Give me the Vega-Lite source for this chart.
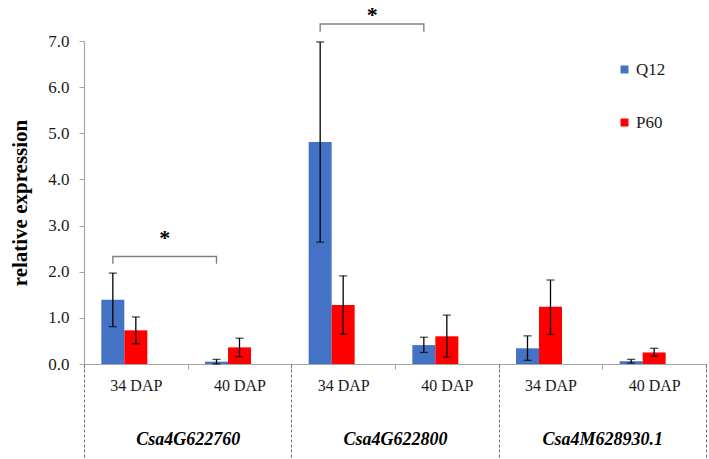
{
  "$schema": "https://vega.github.io/schema/vega-lite/v6.json",
  "width": 622,
  "height": 323,
  "autosize": {"type": "none"},
  "padding": {"left": 84, "top": 41, "right": 3, "bottom": 95},
  "background": "white",
  "config": {"view": {"stroke": null}, "font": "'Liberation Serif', 'Times New Roman', 'DejaVu Serif', serif"},
  "datasets": {
    "bars": [
      {"gene": "Csa4G622760", "cat": "Csa4G622760|34 DAP", "series": "Q12", "value": 1.39, "lo": 0.81, "hi": 1.97},
      {"gene": "Csa4G622760", "cat": "Csa4G622760|34 DAP", "series": "P60", "value": 0.73, "lo": 0.44, "hi": 1.02},
      {"gene": "Csa4G622760", "cat": "Csa4G622760|40 DAP", "series": "Q12", "value": 0.05, "lo": 0.0, "hi": 0.10},
      {"gene": "Csa4G622760", "cat": "Csa4G622760|40 DAP", "series": "P60", "value": 0.36, "lo": 0.16, "hi": 0.56},
      {"gene": "Csa4G622800", "cat": "Csa4G622800|34 DAP", "series": "Q12", "value": 4.81, "lo": 2.64, "hi": 6.98},
      {"gene": "Csa4G622800", "cat": "Csa4G622800|34 DAP", "series": "P60", "value": 1.28, "lo": 0.65, "hi": 1.91},
      {"gene": "Csa4G622800", "cat": "Csa4G622800|40 DAP", "series": "Q12", "value": 0.41, "lo": 0.25, "hi": 0.58},
      {"gene": "Csa4G622800", "cat": "Csa4G622800|40 DAP", "series": "P60", "value": 0.60, "lo": 0.15, "hi": 1.06},
      {"gene": "Csa4M628930.1", "cat": "Csa4M628930.1|34 DAP", "series": "Q12", "value": 0.34, "lo": 0.08, "hi": 0.61},
      {"gene": "Csa4M628930.1", "cat": "Csa4M628930.1|34 DAP", "series": "P60", "value": 1.24, "lo": 0.64, "hi": 1.82},
      {"gene": "Csa4M628930.1", "cat": "Csa4M628930.1|40 DAP", "series": "Q12", "value": 0.06, "lo": 0.02, "hi": 0.10},
      {"gene": "Csa4M628930.1", "cat": "Csa4M628930.1|40 DAP", "series": "P60", "value": 0.25, "lo": 0.17, "hi": 0.34}
    ],
    "brackets": [
      {"gene": "Csa4G622760", "cat": "Csa4G622760|34 DAP", "series": "Q12", "y": 2.17, "ord": 1},
      {"gene": "Csa4G622760", "cat": "Csa4G622760|34 DAP", "series": "Q12", "y": 2.33, "ord": 2},
      {"gene": "Csa4G622760", "cat": "Csa4G622760|40 DAP", "series": "Q12", "y": 2.33, "ord": 3},
      {"gene": "Csa4G622760", "cat": "Csa4G622760|40 DAP", "series": "Q12", "y": 2.17, "ord": 4},
      {"gene": "Csa4G622800", "cat": "Csa4G622800|34 DAP", "series": "Q12", "y": 7.20, "ord": 1},
      {"gene": "Csa4G622800", "cat": "Csa4G622800|34 DAP", "series": "Q12", "y": 7.37, "ord": 2},
      {"gene": "Csa4G622800", "cat": "Csa4G622800|40 DAP", "series": "Q12", "y": 7.37, "ord": 3},
      {"gene": "Csa4G622800", "cat": "Csa4G622800|40 DAP", "series": "Q12", "y": 7.20, "ord": 4}
    ],
    "stars": [
      {"cat": "Csa4G622760|34 DAP", "series": "_", "y": 2.72, "label": "*"},
      {"cat": "Csa4G622800|34 DAP", "series": "_", "y": 7.56, "label": "*"}
    ],
    "genes": [
      {"gene": "Csa4G622760"},
      {"gene": "Csa4G622800"},
      {"gene": "Csa4M628930.1"}
    ]
  },
  "resolve": {"scale": {"x": "independent"}, "axis": {"x": "independent"}},
  "layer": [
    {
      "encoding": {
        "x": {
          "field": "cat",
          "type": "nominal",
          "scale": {
            "domain": ["Csa4G622760|34 DAP", "Csa4G622760|40 DAP", "Csa4G622800|34 DAP", "Csa4G622800|40 DAP", "Csa4M628930.1|34 DAP", "Csa4M628930.1|40 DAP"],
            "paddingInner": 0,
            "paddingOuter": 0
          },
          "axis": {
            "orient": "bottom",
            "title": null,
            "labelExpr": "split(datum.value, '|')[1]",
            "labelAngle": 0,
            "labelFontSize": 16,
            "labelColor": "#1a1a1a",
            "labelPadding": 8,
            "tickBand": "extent",
            "tickSize": 5,
            "tickColor": "#a6a6a6",
            "domainColor": "#a6a6a6",
            "domainWidth": 1.2
          }
        },
        "xOffset": {
          "field": "series",
          "type": "nominal",
          "scale": {"domain": ["Q12", "P60", "_"], "paddingInner": 0, "paddingOuter": 0.754}
        }
      },
      "layer": [
        {
          "data": {"name": "bars"},
          "mark": {"type": "bar"},
          "encoding": {
            "y": {
              "field": "value",
              "type": "quantitative",
              "title": "relative expression",
              "scale": {"domain": [0, 7], "nice": false},
              "axis": {
                "values": [0, 1, 2, 3, 4, 5, 6, 7],
                "format": ".1f",
                "grid": false,
                "domainColor": "#a6a6a6",
                "domainWidth": 1.2,
                "tickColor": "#a6a6a6",
                "tickSize": 5,
                "labelFontSize": 17,
                "labelColor": "#1a1a1a",
                "labelPadding": 10,
                "titleFontSize": 21,
                "titleFontWeight": "bold",
                "titleColor": "#000000",
                "titlePadding": 17
              }
            },
            "color": {
              "field": "series",
              "type": "nominal",
              "scale": {"domain": ["Q12", "P60"], "range": ["#4472C4", "#FF0000"]},
              "legend": {
                "title": null,
                "orient": "none",
                "legendX": 532,
                "legendY": 20,
                "symbolType": "square",
                "symbolSize": 64,
                "symbolStrokeWidth": 0,
                "labelFontSize": 17,
                "labelColor": "#1a1a1a",
                "rowPadding": 35,
                "labelOffset": 3
              }
            }
          }
        },
        {
          "data": {"name": "bars"},
          "mark": {"type": "rule", "color": "#000000", "strokeWidth": 1.3},
          "encoding": {
            "y": {"field": "lo", "type": "quantitative", "title": "relative expression"},
            "y2": {"field": "hi"}
          }
        },
        {
          "data": {"name": "bars"},
          "mark": {"type": "tick", "orient": "horizontal", "color": "#000000", "size": 8, "thickness": 1.3},
          "encoding": {
            "y": {"field": "hi", "type": "quantitative", "title": "relative expression"}
          }
        },
        {
          "data": {"name": "bars"},
          "mark": {"type": "tick", "orient": "horizontal", "color": "#000000", "size": 8, "thickness": 1.3},
          "encoding": {
            "y": {"field": "lo", "type": "quantitative", "title": "relative expression"}
          }
        },
        {
          "data": {"name": "brackets"},
          "mark": {"type": "line", "color": "#808080", "strokeWidth": 1.4},
          "encoding": {
            "y": {"field": "y", "type": "quantitative", "title": "relative expression"},
            "detail": {"field": "gene"},
            "order": {"field": "ord"}
          }
        },
        {
          "data": {"name": "stars"},
          "mark": {"type": "text", "fontSize": 22, "fontWeight": "bold", "color": "#000000", "baseline": "middle", "dx": 6},
          "encoding": {
            "y": {"field": "y", "type": "quantitative", "title": "relative expression"},
            "text": {"field": "label"}
          }
        }
      ]
    },
    {
      "data": {"name": "genes"},
      "mark": {"type": "text", "text": " "},
      "encoding": {
        "x": {
          "field": "gene",
          "type": "nominal",
          "scale": {"domain": ["Csa4G622760", "Csa4G622800", "Csa4M628930.1"], "paddingInner": 0, "paddingOuter": 0},
          "axis": {
            "orient": "bottom",
            "title": null,
            "labelAngle": 0,
            "labelFontSize": 18,
            "labelFontWeight": "bold",
            "labelFontStyle": "italic",
            "labelColor": "#000000",
            "labelPadding": -29,
            "tickBand": "extent",
            "tickSize": 95,
            "tickDash": [3, 2],
            "tickColor": "#707070",
            "tickWidth": 1,
            "domain": false
          }
        }
      }
    }
  ]
}
